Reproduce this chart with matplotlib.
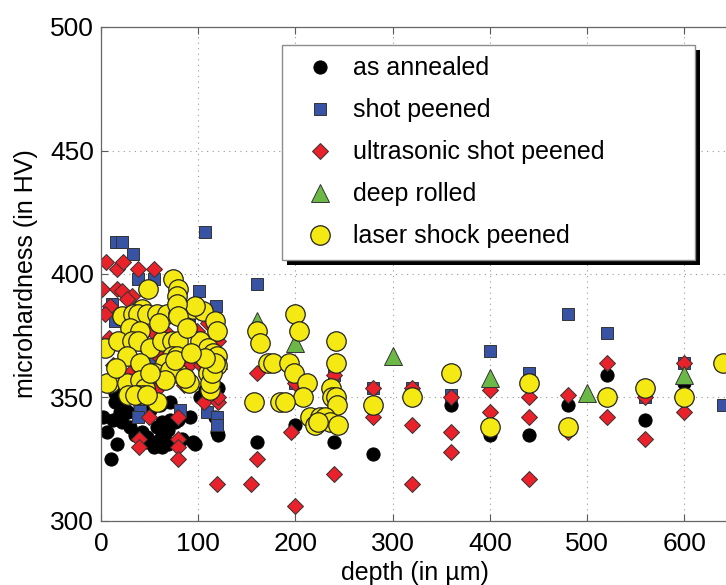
import numpy as np
import matplotlib
matplotlib.use('Agg')
import matplotlib.pyplot as plt
from matplotlib.patches import Rectangle
from matplotlib.transforms import IdentityTransform

plt.rcParams['font.family'] = ['Liberation Sans', 'DejaVu Sans']

# depth (um) / microhardness (HV)
annealed_x = [2, 6, 10, 16, 14, 12, 22, 30, 28, 20, 35, 42, 47, 54, 63, 69, 61, 69, 58, 63,
              71, 71, 61, 79, 83, 76, 92, 95, 97, 102, 107, 120, 117, 119, 120, 14, 25, 20,
              23, 18, 58, 68, 47, 9, 40, 50,
              160, 200, 240, 280, 360, 400, 440, 480, 520, 560, 600]
annealed_y = [342, 336, 325, 331, 348, 341, 340, 338, 344, 344, 335, 336, 332, 330, 330, 331,
              333, 337, 338, 340, 341, 348, 347, 341, 333, 340, 342, 332, 331, 350, 353, 354,
              342, 336, 335, 352, 352, 358, 347, 342, 332, 332, 334, 357, 347, 345,
              332, 339, 332, 327, 347, 335, 335, 347, 359, 341, 356]

shot_x = [15, 22, 33, 38, 55, 11, 14, 107, 101, 118, 40, 38, 81, 109, 119, 119, 60, 90, 50,
          160, 200, 240, 280, 320, 360, 400, 440, 480, 520, 560, 600, 640]
shot_y = [413, 413, 408, 398, 398, 388, 381, 417, 393, 387, 346, 342, 345, 344, 342, 339,
          375, 380, 365,
          396, 356, 359, 354, 354, 351, 369, 360, 384, 376, 350, 364, 347]

usp_x = [5, 16, 23, 38, 54, 1, 16, 22, 32, 27, 9, 4, 8, 12, 52, 66, 99, 120, 61, 90, 103,
         106, 120, 120, 49, 79, 39, 39, 79, 79, 79, 119, 59, 30, 45, 75, 110, 85,
         160, 195, 160, 154, 200, 240, 200, 240, 280, 280, 320, 320, 320, 360, 360, 360,
         400, 400, 440, 440, 440, 480, 480, 520, 520, 560, 560, 600, 600]
usp_y = [405, 402, 405, 402, 402, 394, 394, 393, 391, 390, 387, 384, 374, 363, 377, 377,
         377, 373, 366, 363, 363, 348, 348, 350, 342, 342, 333, 330, 333, 330, 325, 315,
         354, 360, 370, 385, 380, 355,
         360, 336, 325, 315, 306, 319, 356, 359, 354, 342, 354, 339, 315, 350, 336, 328,
         353, 344, 350, 342, 317, 351, 336, 364, 342, 350, 333, 364, 344]

rolled_x = [85, 120, 160, 200, 300, 400, 500, 600]
rolled_y = [370, 365, 381, 372, 367, 358, 352, 359]

lsp_x = [74, 79, 78, 48, 42, 22, 33, 38, 47, 58, 68, 79, 95, 105, 117, 119, 30, 40, 4, 17,
         32, 38, 50, 63, 73, 79, 102, 110, 115, 119, 27, 40, 73, 78, 119, 66, 9, 27, 40,
         45, 56, 79, 90, 110, 112, 28, 38, 43, 58, 71, 35, 47, 66, 50, 97, 78, 79, 86,
         112, 114, 117, 107, 76, 6, 60, 88, 15, 93,
         200, 204, 160, 164, 242, 242, 172, 177, 193, 198, 212, 208, 237, 238, 242, 243,
         157, 184, 189, 215, 220, 225, 230, 236, 244, 223,
         280, 320, 360, 400, 440, 480, 520, 560, 600, 640]
lsp_y = [398, 394, 391, 394, 386, 383, 384, 384, 384, 384, 384, 384, 386, 385, 381, 377,
         378, 377, 370, 373, 373, 373, 370, 373, 373, 373, 373, 370, 368, 367, 367, 364,
         367, 367, 363, 364, 356, 356, 357, 354, 360, 360, 356, 360, 353, 351, 351, 351,
         348, 361, 351, 351, 357, 360, 387, 388, 383, 358, 356, 360, 364, 366, 365, 356,
         380, 378, 362, 368,
         384, 377, 377, 372, 373, 364, 364, 364, 364, 360, 356, 350, 354, 350, 350, 347,
         348, 348, 348, 342, 339, 342, 342, 340, 339, 340,
         347, 350, 360, 338, 356, 338, 350, 354, 350, 364]

fig = plt.figure(figsize=(7.26, 5.85), dpi=100)
ax = fig.add_axes([101/726, 64/585, 632/726, 494/585])

ew = 0.7
ax.plot(annealed_x, annealed_y, 'o', ls='none', ms=9.5, mfc='black', mec='black',
        mew=ew, label='as annealed')
ax.plot(shot_x, shot_y, 's', ls='none', ms=8.5, mfc='#3953a4', mec='#333333',
        mew=ew, label='shot peened')
ax.plot(usp_x, usp_y, 'D', ls='none', ms=8, mfc='#e8212a', mec='#333333',
        mew=ew, label='ultrasonic shot peened')
ax.plot(rolled_x, rolled_y, '^', ls='none', ms=13, mfc='#6cb846', mec='#333333',
        mew=ew, label='deep rolled')
ax.plot(lsp_x, lsp_y, 'o', ls='none', ms=14, mfc='#f5e914', mec='#222222',
        mew=0.9, label='laser shock peened')

ax.set_xlim(0, 650)
ax.set_ylim(300, 500)
ax.set_xticks(np.arange(0, 700, 100))
ax.set_yticks(np.arange(300, 550, 50))
ax.tick_params(direction='in', top=True, right=False, labelsize=19, length=5,
               color='0.35')
ax.tick_params(axis='x', pad=8)
ax.tick_params(axis='y', pad=5)
for s in ['left', 'bottom', 'top']:
    ax.spines[s].set_color('0.4')
    ax.spines[s].set_linewidth(0.9)
ax.spines['right'].set_visible(False)
ax.grid(True, color='0.6', linestyle=(0, (1, 4)), linewidth=0.8)
ax.set_axisbelow(True)

ax.set_xlabel('depth (in µm)', fontsize=18)
ax.set_ylabel('microhardness (in HV)', fontsize=18)
ax.xaxis.set_label_coords((415 - 101) / 632, (521 - 561) / 494)
ax.yaxis.set_label_coords((38 - 101) / 632, 0.5)

leg = ax.legend(loc='upper left', bbox_to_anchor=(181/632, (521-256)/494, 413/632, 211/494),
                mode='expand', fontsize=18, numpoints=1, borderpad=0.45,
                handlelength=2.1, handletextpad=0.3, labelspacing=0.72,
                fancybox=False, framealpha=1, edgecolor='0.55', borderaxespad=0)
leg.get_frame().set_linewidth(1.0)
leg.set_zorder(6)

fig.canvas.draw()
bb = leg.get_window_extent()
shadow = Rectangle((bb.x0 + 5, bb.y0 - 5), bb.width, bb.height, transform=IdentityTransform(),
                   facecolor='black', edgecolor='none', zorder=5.9, clip_on=False)
ax.add_artist(shadow)

fig.savefig('out.png', dpi=100)
